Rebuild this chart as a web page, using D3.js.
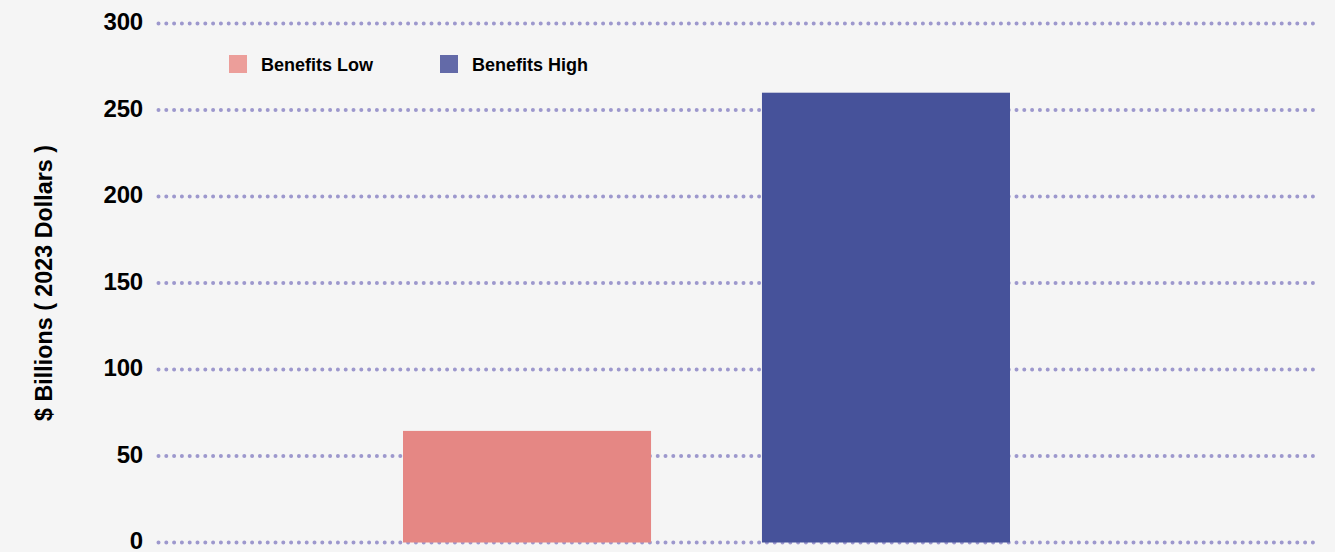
<!DOCTYPE html>
<html>
<head>
<meta charset="utf-8">
<script src="https://cdn.jsdelivr.net/npm/d3@7"></script>
<style>
  html, body { margin: 0; padding: 0; background: #f5f5f5; }
  svg { display: block; }
  text { font-family: "Liberation Sans", Arial, sans-serif; font-weight: bold; fill: #000; }
</style>
</head>
<body>
<svg id="chart" width="1335" height="552"></svg>
<script>
const series = ["Benefits Low", "Benefits High"];
const values = [64.5, 260];
const barColors = ["#e58784", "#46529a"];
const legendColors = ["#ec9e9a", "#636aa8"];
const yTicks = [0, 50, 100, 150, 200, 250, 300];
const yTitle = "$ Billions ( 2023 Dollars )";

const W = 1335, H = 552;
const svg = d3.select("#chart");
svg.append("rect").attr("width", W).attr("height", H).attr("fill", "#f5f5f5");

const y = d3.scaleLinear().domain([0, 300]).range([542.5, 23.5]);
const x = d3.scaleBand().domain(series).range([403, 1010]).paddingInner(0.309).paddingOuter(0);

// gridlines
const gridX0 = 158.5, gridX1 = 1316;
svg.append("g").selectAll("line").data(yTicks).join("line")
  .attr("x1", gridX0).attr("x2", gridX1)
  .attr("y1", d => y(d)).attr("y2", d => y(d))
  .attr("stroke", "#9d98cd")
  .attr("stroke-width", 4)
  .attr("stroke-linecap", "round")
  .attr("stroke-dasharray", "0 7.8");

// y axis labels
const yAxis = d3.axisLeft(y).tickValues(yTicks).tickSize(0).tickPadding(0).tickFormat(d3.format("d"));
const ga = svg.append("g").attr("transform", "translate(143,0)").call(yAxis);
ga.select(".domain").remove();
ga.selectAll("text")
  .attr("font-family", "Liberation Sans, Arial, sans-serif")
  .attr("font-weight", "bold")
  .attr("font-size", 24)
  .attr("letter-spacing", "-0.2")
  .attr("fill", "#000")
  .attr("dy", "0.27em");

// bars
svg.append("g").selectAll("rect").data(series).join("rect")
  .attr("x", d => x(d))
  .attr("width", x.bandwidth())
  .attr("y", (d, i) => y(values[i]))
  .attr("height", (d, i) => y(0) - y(values[i]))
  .attr("fill", (d, i) => barColors[i]);

// y title
svg.append("text")
  .attr("transform", "translate(52,283) rotate(-90)")
  .attr("text-anchor", "middle")
  .attr("font-size", 23.3)
  .text(yTitle);

// legend
const legendX = [229, 440];
const lg = svg.append("g").selectAll("g").data(series).join("g")
  .attr("transform", (d, i) => `translate(${legendX[i]},55)`);
lg.append("rect").attr("width", 18).attr("height", 18).attr("fill", (d, i) => legendColors[i]);
lg.append("text").attr("x", 32).attr("y", 15.5).attr("font-size", 18).text(d => d);
</script>
</body>
</html>
